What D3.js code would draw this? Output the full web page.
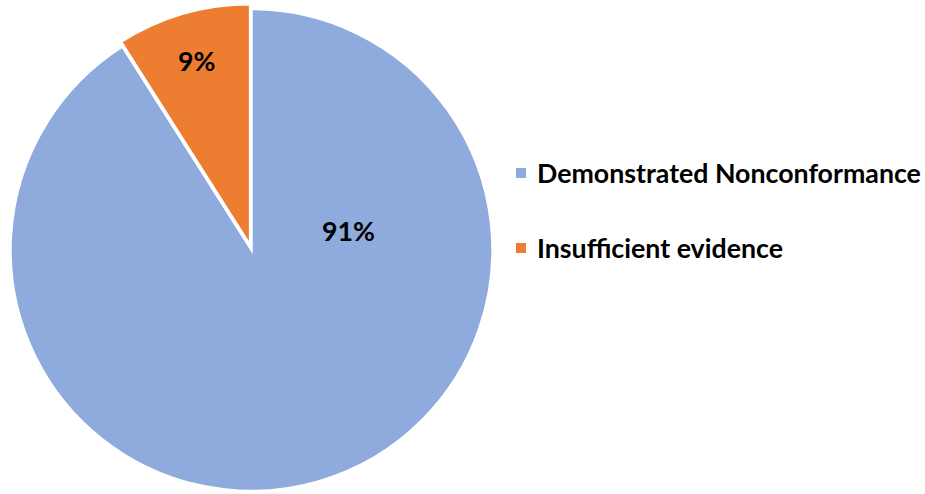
<html>
<head>
    <script src="https://d3js.org/d3.v7.min.js"></script>
    <style>
    body { margin: 0; background: #fff; }
    text { font-family: Lato, "Open Sans", sans-serif; font-weight: bold; fill: #000; }
    </style>
</head>
<body>
<svg id="all" width="925" height="494"></svg>
<script>
    const categories = ["Demonstrated Nonconformance", "Insufficient evidence"];
    const values = [91, 9];
    const labels = ["91%", "9%"];

    const colors = ["#8FAADC", "#ED7D31"];
    // label placement: angle (deg, clockwise from top) and radius fraction
    const labelPos = [{a: 79, f: 0.41}, {a: null, f: 0.815}];
    const explode = [0, 5];

    const svg = d3.select("svg#all");
    const cx = 251.5, cy = 250, radius = 241;

    const pie = d3.pie().sort(null).value(d => d)(values);
    const arc = d3.arc().innerRadius(0).outerRadius(radius);

    const chartArea = svg.append("g").attr("transform", `translate(${cx},${cy})`);

    chartArea.selectAll("path")
        .data(pie)
        .join("path")
        .attr("d", arc)
        .attr("transform", (d, i) => {
            const mid = (d.startAngle + d.endAngle) / 2;
            return `translate(${Math.sin(mid) * explode[i]},${-Math.cos(mid) * explode[i]})`;
        })
        .attr("fill", (d, i) => colors[i])
        .attr("stroke", "#fff")
        .attr("stroke-width", 2.5)
        .attr("stroke-linejoin", "miter");

    chartArea.selectAll("text.lbl")
        .data(pie)
        .join("text")
        .attr("class", "lbl")
        .attr("text-anchor", "middle")
        .attr("dominant-baseline", "central")
        .style("font-size", "25px")
        .attr("x", (d, i) => {
            const a = labelPos[i].a == null ? (d.startAngle + d.endAngle) / 2 : labelPos[i].a * Math.PI / 180;
            return Math.sin(a) * radius * labelPos[i].f;
        })
        .attr("y", (d, i) => {
            const a = labelPos[i].a == null ? (d.startAngle + d.endAngle) / 2 : labelPos[i].a * Math.PI / 180;
            return -Math.cos(a) * radius * labelPos[i].f;
        })
        .text((d, i) => labels[i]);

    // legend
    const legendY = d3.scalePoint().domain(categories).range([173, 248]);
    const legend = svg.append("g").attr("id", "legend");
    const rows = legend.selectAll("g").data(categories).join("g")
        .attr("transform", d => `translate(516,${legendY(d)})`);

    rows.append("rect")
        .attr("x", 0).attr("y", -5)
        .attr("width", 10).attr("height", 10)
        .attr("fill", (d, i) => colors[i]);

    rows.append("text")
        .attr("x", 21)
        .attr("dominant-baseline", "central")
        .style("font-size", "24px")
        .text(d => d);

    // fit legend text width to the reference (Demonstrated Nonconformance ~384px)
    const first = rows.select("text").node();
    const w = first.getComputedTextLength();
    const fs = 24 * 384 / w;
    rows.selectAll("text").style("font-size", fs + "px");
    chartArea.selectAll("text.lbl").style("font-size", fs + "px");
</script>
</body>
</html>
